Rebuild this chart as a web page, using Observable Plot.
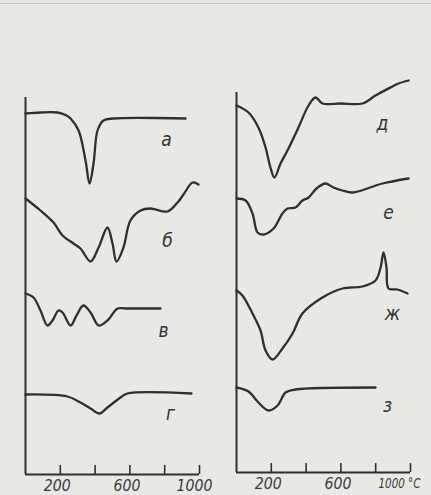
<!DOCTYPE html>
<html>
<head>
<meta charset="utf-8">
<script src="https://cdn.jsdelivr.net/npm/d3@7"></script>
<script src="https://cdn.jsdelivr.net/npm/@observablehq/plot@0.6"></script>
<style>
  html, body { margin: 0; padding: 0; background: #e8e8e5; }
  #fig { position: relative; width: 431px; height: 495px; overflow: hidden; background: #e8e8e5; }
  #fig .edge { position: absolute; left: 0; top: 3px; width: 431px; height: 1px; background: #c4c4c1; }
  #fig .panel { position: absolute; top: 0; }
  #fig svg text { font-family: "Liberation Sans Narrow", "DejaVu Sans Condensed", "Liberation Sans", sans-serif; font-stretch: condensed; font-style: italic; }
</style>
</head>
<body>
<div id="fig"><div class="edge"></div></div>
<script>
// DTA curves: temperature (°C) against signal height (arbitrary units, above the base line)
const ticks = [200, 400, 600, 800, 1000];
const tickLabelValues = [200, 600, 1000];
const tickLabelsLeft = ["200", "600", "1000"];
const tickLabelsRight = ["200", "600", "1000 °C"];

// left panel
const curveA = [[0,361],[86,362],[184,362],[236,359],[259,356],[305,344],[345,314],[368,291],[391,311],[414,344],[448,354],[506,356],[920,356]];
const curveB = [[0,276],[86,264],[161,252],[213,239],[276,231],[316,226],[374,213],[420,227],[471,247],[500,231],[523,213],[563,227],[603,254],[661,264],[718,266],[816,263],[874,272],[908,280],[960,292],[994,290]];
const curveV = [[0,181],[46,177],[86,164],[126,149],[155,154],[190,164],[213,162],[259,149],[293,159],[333,169],[374,162],[420,149],[471,154],[529,166],[575,166],[776,166]];
const curveG = [[0,80],[241,78],[316,72],[374,66],[425,61],[471,67],[546,77],[586,81],[954,81]];

// right panel
const curveD = [[0,367],[69,360],[126,345],[167,325],[195,305],[218,295],[253,309],[293,322],[356,345],[414,367],[454,375],[494,369],[598,369],[724,369],[799,377],[885,385],[931,389],[989,392]];
const curveE = [[0,274],[52,272],[92,259],[121,240],[155,238],[213,244],[264,259],[293,264],[339,265],[379,272],[414,275],[460,284],[511,289],[557,285],[609,282],[667,280],[839,289],[989,294]];
const curveZh = [[0,182],[34,177],[92,159],[138,142],[167,122],[207,113],[264,124],[322,139],[379,159],[494,175],[609,184],[724,186],[799,192],[828,205],[845,220],[862,205],[874,184],[925,183],[983,179]];
const curveZ = [[0,85],[69,81],[126,70],[184,62],[236,67],[282,80],[339,83],[799,85]];

const namesLeft = ["а", "б", "в", "г"];
const namesRight = ["д", "е", "ж", "з"];
const labelXLeft = [810, 816, 793, 833];
const labelYLeft = [335, 234, 144, 61];
const labelXRight = [839, 874, 897, 868];
const labelYRight = [349, 260, 159, 67];

const axisTopLeft = 377;
const axisTopRight = 380;

const ink = "#2f2f2f";

// narrow italic figures under the axis: squeeze each label to a set width
function squeeze(svg) {
  svg.querySelectorAll("text").forEach((t) => {
    const s = t.textContent;
    if (!/^\d/.test(s)) return;
    const unit = s.includes("°");
    const w = unit ? 42 : s.length * 9;
    if (unit) t.setAttribute("font-size", "13.5");
    t.setAttribute("textLength", w);
    t.setAttribute("lengthAdjust", "spacingAndGlyphs");
    t.setAttribute("dx", unit ? "-11" : s.length > 3 ? "-5" : "-3");
  });
}

function panel({curves, names, labelX, labelY, tickLabels, axisTop, left, width, marginLeft, marginRight, marginBottom}) {
  const rows = curves.flatMap((c, i) => c.map(([t, v]) => ({t, v, name: names[i]})));
  const labels = names.map((n, i) => ({n, x: labelX[i], y: labelY[i]}));
  const tickText = tickLabelValues.map((v, i) => ({v, s: tickLabels[i]}));
  const plot = Plot.plot({
    width, height: 495,
    marginLeft, marginRight, marginTop: 0, marginBottom,
    x: {domain: [0, 1000], axis: null},
    y: {domain: [0, 495 - marginBottom], axis: null},
    style: {background: "transparent", overflow: "visible"},
    marks: [
      Plot.ruleX([0], {y1: 0, y2: axisTop, stroke: ink, strokeWidth: 2}),
      Plot.ruleY([0], {x1: 0, x2: 1000, stroke: ink, strokeWidth: 2}),
      Plot.ruleX(ticks, {y1: 0, y2: 9, stroke: ink, strokeWidth: 1.6}),
      Plot.line(rows, {x: "t", y: "v", z: "name", curve: "catmull-rom", stroke: ink, strokeWidth: 2.3, strokeLinejoin: "round", strokeLinecap: "round"}),
      Plot.text(labels, {x: "x", y: "y", text: "n", fontSize: 19, fill: "#333"}),
      Plot.text(tickText, {
        x: "v", y: () => 0, text: "s", fontSize: 15, fill: "#3a3a3a",
        lineAnchor: "top", dy: 6, textAnchor: "middle"
      })
    ]
  });
  squeeze(plot);
  const wrap = document.createElement("div");
  wrap.className = "panel";
  wrap.style.left = left + "px";
  wrap.appendChild(plot);
  document.getElementById("fig").appendChild(wrap);
}

panel({
  curves: [curveA, curveB, curveV, curveG], names: namesLeft,
  labelX: labelXLeft, labelY: labelYLeft, tickLabels: tickLabelsLeft,
  axisTop: axisTopLeft, left: 0, width: 215, marginLeft: 25, marginRight: 16, marginBottom: 21
});
panel({
  curves: [curveD, curveE, curveZh, curveZ], names: namesRight,
  labelX: labelXRight, labelY: labelYRight, tickLabels: tickLabelsRight,
  axisTop: axisTopRight, left: 215, width: 216, marginLeft: 21, marginRight: 21, marginBottom: 23
});
</script>
</body>
</html>
